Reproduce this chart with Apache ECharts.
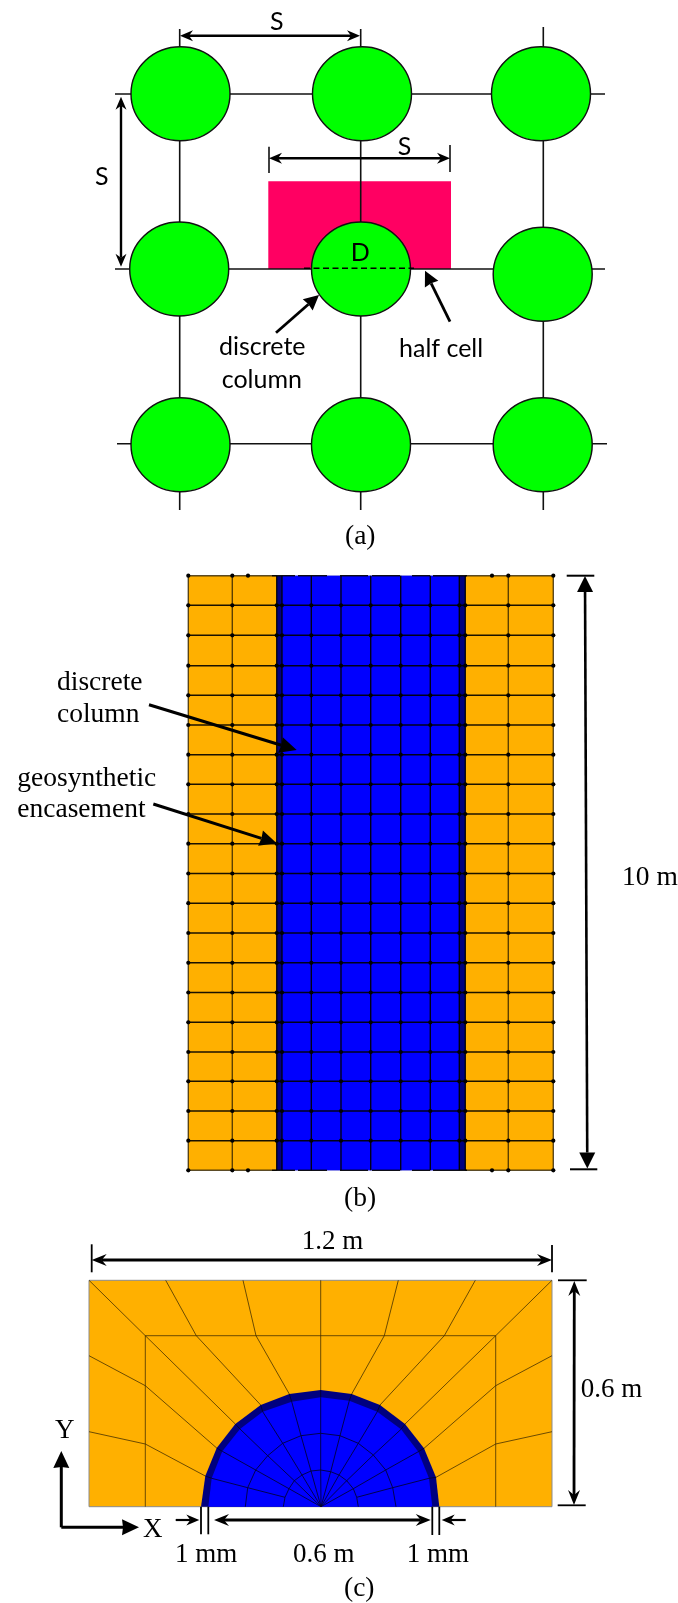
<!DOCTYPE html>
<html>
<head>
<meta charset="utf-8">
<title>Column layout and mesh</title>
<script src="https://cdn.jsdelivr.net/npm/echarts@6/dist/echarts.min.js"></script>
<style>
    html, body { margin: 0; padding: 0; background: #fff; }
    /* the source figure is a soft scan */
    #chart { width: 678px; height: 1603px; filter: blur(0.4px); }
</style>
</head>
<body>
<div id="chart"></div>
<script>
// (a) plan view
var columnCentres = [
    [180.5, 93.7], [362, 93.7], [541, 93.7],
    [179.2, 269], [361, 269], [542.7, 274.3],
    [180.5, 444.7], [361, 444.7], [542.7, 444.7]
];
var halfCell = [[268.3, 181.3], [451, 181.3], [451, 269], [268.3, 269]];
var planLines = [
    [115, 94, 605, 94], [115, 269, 605, 269], [117, 443.7, 607, 443.7],
    [179.7, 29, 179.7, 510], [360.7, 29, 360.7, 510], [543.3, 27, 543.3, 510],
    [269, 146.7, 269, 173], [450, 145, 450, 172]
];
var diameterLine = [[304, 268.3, 414, 268.3]];
var planDimArrows = [[180, 35.7, 360, 35.7], [269, 158.3, 450, 158.3], [121, 96.7, 121, 266.7]];
var planPointers = [[276, 332.7, 319, 295], [450, 321.7, 425, 270.7]];
var planLabels = [
    ['S', 270, 29], ['S', 397.7, 154], ['S', 95, 184], ['D', 350.7, 260],
    ['discrete', 219, 354], ['column', 221.7, 387], ['half cell', 399, 356.7]
];

// (b) section mesh
var meshX = [188.3, 232.3, 276.7, 282, 311.3, 341, 370.7, 400.7, 430.3, 459.3, 465.3, 508.3, 553.3];
var meshY = [575.7, 605.3, 635.3, 665.7, 695.3, 725, 754.7, 784.3, 814, 843.7, 873.5, 903.2, 933, 962.8, 992.5, 1022.3, 1052, 1081.3, 1111, 1140.7, 1170.3];
var edgeFragments = [[272, 295], [298, 327], [340, 368], [372, 400], [412, 430], [433, 467]];
var edgeSpecks = [248, 492];
var sectionSoilLeft = [[188.3, 575.7], [276.7, 575.7], [276.7, 1170.3], [188.3, 1170.3]];
var sectionSoilRight = [[465.3, 575.7], [553.3, 575.7], [553.3, 1170.3], [465.3, 1170.3]];
var sectionWrap = [[276.7, 575.7], [465.3, 575.7], [465.3, 1170.3], [276.7, 1170.3]];
var sectionCore = [[282, 575.7], [459.3, 575.7], [459.3, 1170.3], [282, 1170.3]];
var sectionTicks = [[566.7, 575.7, 594.3, 575.7], [570, 1169.3, 597.3, 1169.3]];
var sectionDimArrows = [[585, 576, 587.3, 1168.5]];
var sectionPointers = [[149, 704.7, 296.7, 750], [153.3, 804, 276.7, 843.3]];
var sectionLabels = [
    ['discrete', 57, 690.7], ['column', 57, 722.3],
    ['geosynthetic', 17.3, 786.7], ['encasement', 17.3, 818], ['10 m', 622, 886]
];

// (c) cross section mesh
var crossBlock = [[89, 1280.3], [552, 1280.3], [552, 1506.7], [89, 1506.7]];
var wrapOuter = [[201, 1506.7], [205.3, 1476], [216.7, 1448], [235.3, 1424], [260.7, 1405], [289.3, 1394], [320.7, 1390], [351.7, 1394], [380, 1405], [405, 1424], [424, 1448.3], [436, 1477.3], [439.3, 1506.7]];
var wrapInner = [[208.3, 1506.7], [211.7, 1478.3], [222.3, 1451.3], [240, 1429], [262.7, 1411.7], [291.7, 1401.7], [320.7, 1397.3], [349.3, 1400.7], [377.3, 1411.7], [401, 1429.3], [418.3, 1451.7], [429, 1478.3], [432.3, 1506.7]];
var ringMid = [[245.3, 1506.7], [247.7, 1487.7], [255.7, 1470], [267.7, 1455.7], [282.7, 1443.3], [301, 1435.7], [320.7, 1433.3], [340, 1435.7], [358.3, 1443.3], [373.3, 1455], [385.7, 1470], [392.7, 1487.7], [396, 1506.7]];
var ringCore = [[283.3, 1506.7], [285, 1497.3], [289, 1488.7], [294.3, 1480.7], [302, 1475], [311, 1471], [320.7, 1470], [330.7, 1471.7], [339, 1475], [346.7, 1480.7], [353.3, 1488.7], [356.7, 1497.3], [358.3, 1506.7]];
var coreCentre = [321, 1506.7];
var midBox = [[145.3, 1506.7], [145.3, 1444], [145.3, 1385.7], [145.3, 1335.7], [196.3, 1335.7], [256, 1335.7], [320.7, 1335.7], [384.3, 1335.7], [444.3, 1335.7], [495.7, 1335.7], [495.7, 1385.7], [495.7, 1444], [495.7, 1506.7]];
var blockEdge = [[89, 1506.7], [89, 1431.7], [89, 1355.7], [89, 1280.3], [165.7, 1280.3], [243, 1280.3], [320.7, 1280.3], [398.3, 1280.3], [475.3, 1280.3], [552, 1280.3], [552, 1355.7], [552, 1431.7], [552, 1506.7]];
var crossTicks = [
    [91.7, 1244.3, 91.7, 1272.3], [552, 1245, 552, 1272.3],
    [558, 1280.3, 586.7, 1280.3], [557.7, 1505.3, 585.7, 1505.3],
    [201, 1506.7, 201, 1534.3], [208.3, 1506.7, 208.3, 1534.3],
    [432.3, 1506.7, 432.3, 1535], [439.3, 1506.7, 439.3, 1535]
];
var crossDimArrows = [[91.7, 1260, 552, 1260], [574.3, 1281, 574, 1505], [214, 1520, 430.7, 1520]];
var crossSmallArrows = [[175.7, 1520, 199.3, 1520], [465.7, 1520, 441.7, 1520]];
var crossAxes = [[61.3, 1527.3, 61.3, 1451], [61.3, 1527.3, 139, 1527.3]];
var crossLabels = [
    ['1.2 m', 301.7, 1250], ['0.6 m', 580.7, 1398], ['0.6 m', 293, 1562.7],
    ['1 mm', 175, 1562.7], ['1 mm', 406.7, 1562.7], ['Y', 55, 1439], ['X', 143, 1538]
];
var captions = [['(a)', 345, 545], ['(b)', 344, 1207], ['(c)', 344, 1597]];

var serif = '"Liberation Serif"';
var sans = 'Lato';
var meshDark = 'rgba(0,0,0,0.9)';
var soilLine = 'rgba(50,35,0,0.8)';

function polySeries(points, fill) {
    return {
        type: 'custom', coordinateSystem: 'cartesian2d', silent: true, animation: false,
        data: points,
        renderItem: function (p, api) {
            if (p.dataIndex !== 0) return null;
            return {
                type: 'polygon',
                shape: { points: points.map(function (d) { return api.coord(d); }) },
                style: { fill: fill }
            };
        }
    };
}

function segSeries(list, color, width, dash) {
    return {
        type: 'custom', coordinateSystem: 'cartesian2d', silent: true, animation: false,
        data: list,
        encode: { x: [0, 2], y: [1, 3] },
        renderItem: function (p, api) {
            var a = api.coord([api.value(0), api.value(1)]);
            var b = api.coord([api.value(2), api.value(3)]);
            return {
                type: 'line',
                shape: { x1: a[0], y1: a[1], x2: b[0], y2: b[1] },
                style: { stroke: color, lineWidth: width, lineDash: dash || null, fill: null }
            };
        }
    };
}

function pathSeries(points, color, width) {
    return {
        type: 'line', data: points, symbol: 'none', silent: true, animation: false,
        lineStyle: { color: color, width: width }
    };
}

function dotSeries(points, size, color, border, borderWidth) {
    return {
        type: 'scatter', data: points, symbol: 'circle', symbolSize: size, silent: true, animation: false,
        itemStyle: { color: color, opacity: 1, borderColor: border || color, borderWidth: borderWidth || 0 }
    };
}

// o = width, len, half, notch, both
function arrowSeries(list, o) {
    function head(tip, ux, uy) {
        var nx = -uy, ny = ux;
        return {
            type: 'polygon',
            shape: {
                points: [
                    tip,
                    [tip[0] - ux * o.len + nx * o.half, tip[1] - uy * o.len + ny * o.half],
                    [tip[0] - ux * (o.len - o.notch), tip[1] - uy * (o.len - o.notch)],
                    [tip[0] - ux * o.len - nx * o.half, tip[1] - uy * o.len - ny * o.half]
                ]
            },
            style: { fill: '#000' }
        };
    }
    return {
        type: 'custom', coordinateSystem: 'cartesian2d', silent: true, animation: false,
        data: list,
        encode: { x: [0, 2], y: [1, 3] },
        renderItem: function (p, api) {
            var a = api.coord([api.value(0), api.value(1)]);
            var b = api.coord([api.value(2), api.value(3)]);
            var dx = b[0] - a[0], dy = b[1] - a[1];
            var l = Math.sqrt(dx * dx + dy * dy);
            var ux = dx / l, uy = dy / l;
            var back = o.len - o.notch;
            var start = o.both ? back : 0;
            var kids = [{
                type: 'line',
                shape: {
                    x1: a[0] + ux * start, y1: a[1] + uy * start,
                    x2: b[0] - ux * back, y2: b[1] - uy * back
                },
                style: { stroke: '#000', lineWidth: o.width, fill: null }
            }, head(b, ux, uy)];
            if (o.both) kids.push(head(a, -ux, -uy));
            return { type: 'group', children: kids };
        }
    };
}

// labels hold the baseline y, zrender places text from the top of the line
function textSeries(list, family, size) {
    return {
        type: 'custom', coordinateSystem: 'cartesian2d', silent: true, animation: false,
        data: list.map(function (d) { return [d[1], d[2]]; }),
        renderItem: function (p, api) {
            var c = api.coord([api.value(0), api.value(1)]);
            return {
                type: 'text',
                x: c[0], y: c[1] - size * 0.8,
                style: {
                    text: list[p.dataIndex][0], fill: '#000',
                    font: size + 'px ' + family,
                    textAlign: 'left', textBaseline: 'top'
                }
            };
        }
    };
}

// --- (b) mesh pieces
var sectionSegs = [], soilSegs = [], sectionNodes = [];
meshX.forEach(function (x, i) {
    var target = (i < 2 || i > 10) ? soilSegs : sectionSegs;
    target.push([x, meshY[0], x, meshY[meshY.length - 1]]);
});
meshY.forEach(function (y, j) {
    var edge = j === 0 || j === meshY.length - 1;
    if (edge) {
        soilSegs.push([188.3, y, 276.7, y], [465.3, y, 553.3, y]);
        edgeFragments.forEach(function (f) { sectionSegs.push([f[0], y, f[1], y]); });
        edgeSpecks.forEach(function (x) { sectionNodes.push([x, y]); });
    } else {
        sectionSegs.push([188.3, y, 553.3, y]);
    }
    meshX.forEach(function (x, i) {
        if (!edge || i < 2 || i > 10) sectionNodes.push([x, y]);
    });
});

// --- (c) spokes join the rings and the box nodes
var crossSegs = [], coreSegs = [];
blockEdge.forEach(function (d, i) {
    if (i > 0 && i < 12) crossSegs.push([d[0], d[1], midBox[i][0], midBox[i][1]]);
    if (i > 0 && i < 12) crossSegs.push([midBox[i][0], midBox[i][1], wrapOuter[i][0], wrapOuter[i][1]]);
});
crossSegs.push([145.3, 1506.7, 145.3, 1335.7], [145.3, 1335.7, 495.7, 1335.7], [495.7, 1335.7, 495.7, 1506.7]);
wrapInner.forEach(function (d, i) {
    if (i > 0 && i < 12) {
        coreSegs.push([d[0], d[1], wrapOuter[i][0], wrapOuter[i][1]]);
        coreSegs.push([d[0], d[1], ringMid[i][0], ringMid[i][1]]);
        coreSegs.push([ringMid[i][0], ringMid[i][1], ringCore[i][0], ringCore[i][1]]);
    }
    if (i > 1 && i < 11) coreSegs.push([ringCore[i][0], ringCore[i][1], coreCentre[0], coreCentre[1]]);
});

var series = [
    // (a)
    polySeries(halfCell, '#ff0062'),
    segSeries(planLines, '#111', 1.6),
    dotSeries(columnCentres, [99, 94], '#00ff00', '#111', 1.4),
    segSeries(diameterLine, '#000', 1.6, [6, 3.5]),
    arrowSeries(planDimArrows, { width: 2.4, len: 13, half: 5.5, notch: 4, both: true }),
    arrowSeries(planPointers, { width: 2.8, len: 15, half: 7.5, notch: 1 }),
    textSeries(planLabels, sans, 25),

    // (b)
    polySeries(sectionSoilLeft, '#ffb000'),
    polySeries(sectionSoilRight, '#ffb000'),
    polySeries(sectionWrap, '#00007f'),
    polySeries(sectionCore, '#0000ff'),
    segSeries(soilSegs, soilLine, 1.4),
    segSeries(sectionSegs, meshDark, 1.4),
    dotSeries(sectionNodes, 4.2, '#000'),
    segSeries(sectionTicks, '#000', 2),
    arrowSeries(sectionDimArrows, { width: 2.6, len: 16, half: 8, notch: 0, both: true }),
    arrowSeries(sectionPointers, { width: 3, len: 17, half: 8, notch: 1 }),
    textSeries(sectionLabels, serif, 27.5),

    // (c)
    polySeries(crossBlock, '#ffb000'),
    pathSeries(crossBlock.concat([crossBlock[0]]), '#8c8c8c', 1),
    segSeries(crossSegs, 'rgba(50,35,0,0.8)', 0.9),
    polySeries(wrapOuter, '#00007f'),
    polySeries(wrapInner, '#0000ff'),
    pathSeries(ringMid, 'rgba(0,0,40,0.9)', 0.9),
    pathSeries(ringCore, 'rgba(0,0,40,0.9)', 0.9),
    segSeries(coreSegs, 'rgba(0,0,40,0.9)', 0.9),
    segSeries(crossTicks, '#000', 1.8),
    arrowSeries(crossDimArrows, { width: 2.8, len: 15, half: 6, notch: 5, both: true }),
    arrowSeries(crossSmallArrows, { width: 2.2, len: 13, half: 5.5, notch: 4 }),
    arrowSeries(crossAxes, { width: 3, len: 17, half: 8, notch: 1 }),
    textSeries(crossLabels, serif, 27),
    textSeries(captions, serif, 27.5)
];

// draw strictly in list order, scatter would otherwise sit above custom marks
series.forEach(function (s, i) { s.z = i + 1; });

var myChart = echarts.init(document.getElementById('chart'), null, { renderer: 'canvas' });
myChart.setOption({
    backgroundColor: '#fff',
    animation: false,
    grid: { left: 0, right: 0, top: 0, bottom: 0 },
    xAxis: { type: 'value', min: 0, max: 678, show: false },
    yAxis: { type: 'value', min: 0, max: 1603, inverse: true, show: false },
    series: series
});
</script>
</body>
</html>
